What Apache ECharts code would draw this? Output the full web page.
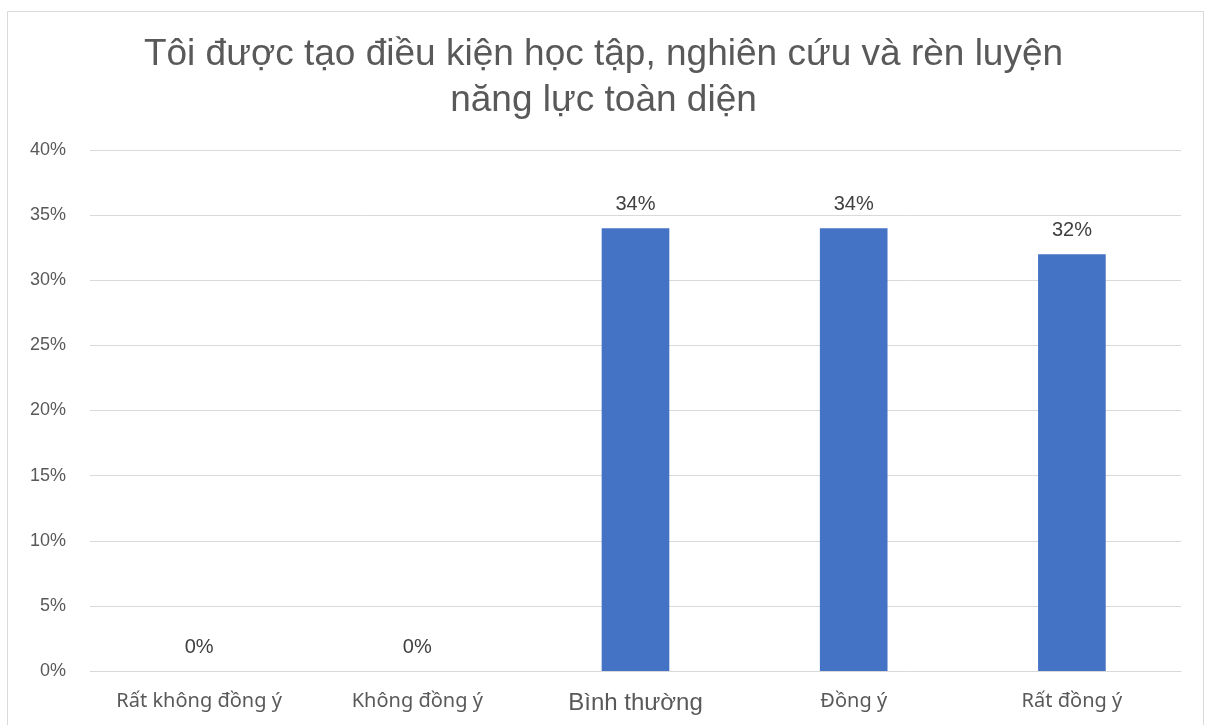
<!DOCTYPE html>
<html lang="vi">
<head>
<meta charset="UTF-8">
<title>Chart</title>
<script src="https://cdn.jsdelivr.net/npm/echarts@6/dist/echarts.min.js"></script>
<style>
  html, body { margin: 0; padding: 0; background: #fff; }
  #main { width: 1207px; height: 725px; }
</style>
</head>
<body>
<div id="main"></div>
<script>
// data
var categories = ['Rất không đồng ý', 'Không đồng ý', 'Bình thường', 'Đồng ý', 'Rất đồng ý'];
var values = [0, 0, 34, 34, 32];
var yTicks = [0, 5, 10, 15, 20, 25, 30, 35, 40];

// "Bình thường" is rendered in a bigger, different font in the original
var xData = categories.map(function (c, i) {
  if (i === 2) {
    return { value: c, textStyle: { fontFamily: 'Liberation Sans', fontSize: 24 } };
  }
  return c;
});

var chart = echarts.init(document.getElementById('main'));
chart.setOption({
  animation: false,
  backgroundColor: '#fff',
  title: {
    text: 'Tôi được tạo điều kiện học tập, nghiên cứu và rèn luyện\nnăng lực toàn diện',
    left: 'center',
    top: 27,
    textStyle: {
      fontFamily: 'Liberation Sans',
      fontSize: 37,
      fontWeight: 'normal',
      color: '#595959',
      lineHeight: 46
    }
  },
  graphic: [{
    type: 'rect',
    shape: { x: 7.5, y: 11.5, width: 1196, height: 720 },
    style: { fill: 'none', stroke: '#d9d9d9', lineWidth: 1 },
    silent: true
  }],
  grid: { left: 90, right: 26, top: 150, bottom: 54 },
  xAxis: {
    type: 'category',
    data: xData,
    axisLine: { lineStyle: { color: '#d9d9d9', width: 1 } },
    axisTick: { show: false },
    axisLabel: {
      margin: 20,
      fontFamily: 'Noto Sans',
      fontSize: 20,
      color: '#595959'
    }
  },
  yAxis: {
    type: 'value',
    min: yTicks[0],
    max: yTicks[yTicks.length - 1],
    interval: 5,
    axisLine: { show: false },
    axisTick: { show: false },
    splitLine: { lineStyle: { color: '#d9d9d9', width: 1 } },
    axisLabel: {
      margin: 24,
      fontFamily: 'Liberation Sans',
      fontSize: 18,
      color: '#595959',
      formatter: '{value}%'
    }
  },
  series: [{
    type: 'bar',
    data: values,
    barWidth: '31%',
    itemStyle: { color: '#4472C4' },
    label: {
      show: true,
      position: 'top',
      distance: 14,
      fontFamily: 'Liberation Sans',
      fontSize: 20,
      color: '#404040',
      formatter: '{c}%'
    }
  }]
});
</script>
</body>
</html>
